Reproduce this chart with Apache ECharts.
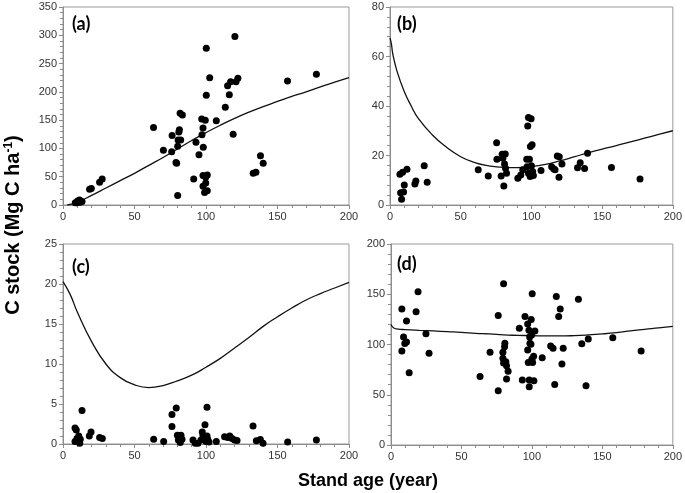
<!DOCTYPE html>
<html><head><meta charset="utf-8">
<script src="https://cdn.jsdelivr.net/npm/echarts@6/dist/echarts.min.js"></script>
<style>html,body{margin:0;padding:0;background:#fff}#c{width:685px;height:493px}</style>
</head><body><div id="c"></div>
<script>
// Panel (a): total C stock
const agesA = [8.6,10.2,11.6,12,13.3,9.8,18.6,19.8,25.6,27.4,63.3,70.2,76.3,76,79,79.5,80.2,80.2,80.5,81,81.4,82.3,81.9,83.5,91.4,93,95.1,97,97.2,97.9,97.9,97.9,98.1,99.5,99,99.8,99.8,100.2,100.2,100.9,100.9,102.6,107.2,113.5,115.1,116.3,117.2,119,120.2,121,122.3,133,134.9,138.1,140,157,177.2];
const valuesA = [4,7,9,5,6,4,28,29,40,46,137,97,123,94,75,74,17,104,115,129,133,115,162,159,46,111,89,152,124,136,52,33,102,150,22,39,49,277,194,53,25,225,149,173,211,195,218,125,298,218,224,56,58,87,74,219,231];
const curveAgesA = [3,10,20,30,40,50,60,70,80,90,100,110,120,130,140,150,160,170,180,190,200];
const curveA = [0,5,17,30,43,56,70,84,99,114,128,141,153,164,174,183,192,200,209,217,225];

// Panel (b)
const agesB = [7.5,8.2,7,8.9,12,10.1,9.6,17.6,18.3,24.2,26.3,62.4,69.5,75.4,75.6,78.6,79.3,79.8,80.5,81,81.5,81.7,82.4,90.4,92.5,93.9,96.7,96.9,97.4,97.9,97.9,98.6,99.1,99.8,99.3,100.5,100,100.9,101.4,106.8,114.3,115.7,116.7,118.3,119.7,119.5,121.6,132.6,134.5,137.6,139.7,156.6,176.8];
const valuesB = [4.9,2.3,12.4,13.2,14.4,8.1,5.3,8.5,9.7,15.9,9.2,14.2,11.7,25.2,18.5,11.7,20.5,18.9,7.7,16.6,20.6,14.8,12.8,10.8,12.1,14.2,18.5,15.5,31.9,35.4,12.8,18.5,11.5,34.8,23.6,24.3,15.9,13.5,11.9,13.9,15.5,14.6,14.2,19.8,19.5,11.2,16.6,15.1,17.1,14.7,20.9,15.2,10.5];
const curveAgesB = [0,1,2,5,10,15,20,30,40,50,60,70,80,90,100,110,120,130,140,150,160,170,180,190,200];
const curveB = [67.5,65,61,54,46,40,35,28.3,23.3,19.5,17.1,15.8,15.2,15.1,15.5,16.4,17.8,19.4,21.1,22.6,24,25.5,27,28.5,30];

// Panel (c)
const agesC = [8.4,9.3,8.4,9.8,11,11.7,12.1,13.3,18.4,19.6,25.6,27.5,63.4,70.4,76.2,76.2,79.2,80,80.7,81.6,82,82.5,83.2,90.9,92.5,94.4,96.5,97.4,97.9,98.4,99.3,100,100.7,100.7,101.2,102.1,107.2,113,115.2,116.6,118.2,120,121.7,132.9,135.2,138,139.9,157.1,177.2];
const valuesC = [2.0,1.75,0.3,0.7,1.0,0.1,0.6,4.2,1.0,1.5,0.8,0.7,0.6,0.3,3.7,2.2,4.5,1.1,0.5,0.8,0.2,1.1,0.6,0.5,0.1,0.1,0.5,1.5,1.1,0.7,2.4,0.3,4.6,1.0,0.6,0.25,0.3,0.9,0.8,1.0,0.7,0.5,0.45,2.25,0.4,0.55,0.1,0.25,0.5];
const curveAgesC = [0,5,10,20,30,40,50,60,70,80,90,100,110,120,130,140,150,160,170,180,190,200];
const curveC = [20.3,18.7,16.5,12.8,10.0,8.3,7.4,7.05,7.3,7.9,8.6,9.6,10.7,12.0,13.3,14.7,15.9,17.0,18.0,18.8,19.5,20.2];

// Panel (d)
const agesD = [7.7,7.7,8.9,9.8,11,11,12.9,17.8,19.2,24.8,27,63.2,70.3,76.1,76.1,79.4,79.4,79.9,79.9,80.6,80.8,81.5,82,82,83.1,91.1,93.2,95.1,97,97,97.4,97.9,98.1,98.1,98.4,98.6,99.5,99.3,99.8,100.2,100,100.5,101.2,101.4,102.1,107.3,113.3,115,116.2,117.3,119,120.1,121.3,122.2,133,135.4,138.4,140,157.4,177.5];
const valuesD = [135.4,93.5,107.5,101,102.5,123.5,72,132.5,152.4,110.8,91.2,68.2,92.2,128.8,54,86.2,92.2,160.4,81.5,97.8,101.2,82.9,78.9,65.6,73.5,116.1,64.6,127.8,120.5,94.5,82.2,114.1,64.6,57.9,107.5,101.2,124.8,100.2,109.5,150.4,85.5,82.2,88.2,63.9,113.5,86.9,98.5,96.2,60.2,147.8,127.8,135.4,80.5,96.2,145.1,100.8,58.9,105.5,106.8,93.5];
const curveAgesD = [0,2,5,10,20,30,40,50,60,70,80,90,100,110,120,130,140,150,160,170,180,190,200];
const curveD = [120,116.5,115.3,114.8,114.1,113.5,112.8,112.1,111.1,110.5,109.5,109.1,108.8,108.5,108.5,108.8,109.5,110.5,111.8,113.5,115.1,116.5,118.1];

const panelLabels = ['(a)','(b)','(c)','(d)'];
const yMaxes = [350,80,25,200];
const yIntervals = [50,20,5,50];
const xTicks = [0,50,100,150,200];

const grids = [
  {left:63, top:7, width:286, height:198},
  {left:390, top:7, width:284, height:198},
  {left:63, top:244, width:286, height:200},
  {left:391, top:244, width:284, height:201}
];
const labelPos = [[72,24],[397,24],[72,267],[397,264]];

function zip(a,b){return a.map((v,i)=>[v,b[i]]);}
const axisColor = '#8c8c8c';
const ARIAL = '"Liberation Sans", Arial, sans-serif';
const labelStyle = {color:'#333', fontSize:11, fontFamily:ARIAL};

const xAxes = grids.map((g,i)=>({
  type:'value', gridIndex:i, min:xTicks[0], max:xTicks[xTicks.length-1], interval:xTicks[1]-xTicks[0],
  axisLine:{show:true, onZero:false, lineStyle:{color:axisColor, width:1}},
  axisTick:{show:true, length:4, lineStyle:{color:axisColor}},
  minorTick:{show:true, splitNumber:5, length:3, lineStyle:{color:axisColor}},
  splitLine:{show:false},
  axisLabel:Object.assign({margin:6, showMinLabel:true, showMaxLabel:true}, labelStyle)
}));
const yAxes = grids.map((g,i)=>({
  type:'value', gridIndex:i, min:0, max:yMaxes[i], interval:yIntervals[i],
  axisLine:{show:true, onZero:false, lineStyle:{color:axisColor, width:1}},
  axisTick:{show:true, length:4, lineStyle:{color:axisColor}},
  minorTick:{show:true, splitNumber:5, length:3, lineStyle:{color:axisColor}},
  splitLine:{show:false},
  axisLabel:Object.assign({margin:6, showMinLabel:true, showMaxLabel:true}, labelStyle)
}));

const scatterData = [zip(agesA,valuesA), zip(agesB,valuesB), zip(agesC,valuesC), zip(agesD,valuesD)];
const curveData = [zip(curveAgesA,curveA), zip(curveAgesB,curveB), zip(curveAgesC,curveC), zip(curveAgesD,curveD)];

const series = [];
for (let i=0;i<4;i++){
  series.push({type:'line', xAxisIndex:i, yAxisIndex:i, data:curveData[i], smooth:0.5, showSymbol:false, symbol:'none',
    lineStyle:{color:'#111', width:1.3}, silent:true, z:2});
  series.push({type:'scatter', xAxisIndex:i, yAxisIndex:i, data:scatterData[i], symbol:'circle', symbolSize:7,
    itemStyle:{color:'#000', opacity:1}, z:3});
}

const graphics = panelLabels.map((t,i)=>({
  type:'text', x:labelPos[i][0], y:labelPos[i][1],
  style:{text:t, fontSize:18, fontWeight:'bold', fontFamily:'Lato, "Open Sans", sans-serif', fill:'#000', verticalAlign:'middle'}
}));
graphics.push({
  type:'text', x:13, y:225, rotation:Math.PI/2,
  style:{text:'{m|C stock (Mg C ha}{s|-1}{m|)}', align:'center', verticalAlign:'middle',
    rich:{m:{fontSize:20, fontWeight:'bold', fontFamily:ARIAL, fill:'#000'},
          s:{fontSize:12, fontWeight:'bold', fontFamily:ARIAL, fill:'#000', verticalAlign:'top', padding:[0,0,9,0]}}}
});
graphics.push({
  type:'text', x:368, y:481,
  style:{text:'Stand age (year)', align:'center', verticalAlign:'middle', fontSize:18, fontWeight:'bold', fontFamily:ARIAL, fill:'#000'}
});

const chart = echarts.init(document.getElementById('c'), null, {renderer:'canvas'});
chart.setOption({
  backgroundColor:'#fff',
  animation:false,
  textStyle:{fontFamily:ARIAL},
  grid: grids.map(g=>Object.assign({show:true, borderColor:'#999', borderWidth:1, backgroundColor:'transparent'}, g)),
  xAxis:xAxes, yAxis:yAxes, series:series, graphic:graphics
});
</script></body></html>
